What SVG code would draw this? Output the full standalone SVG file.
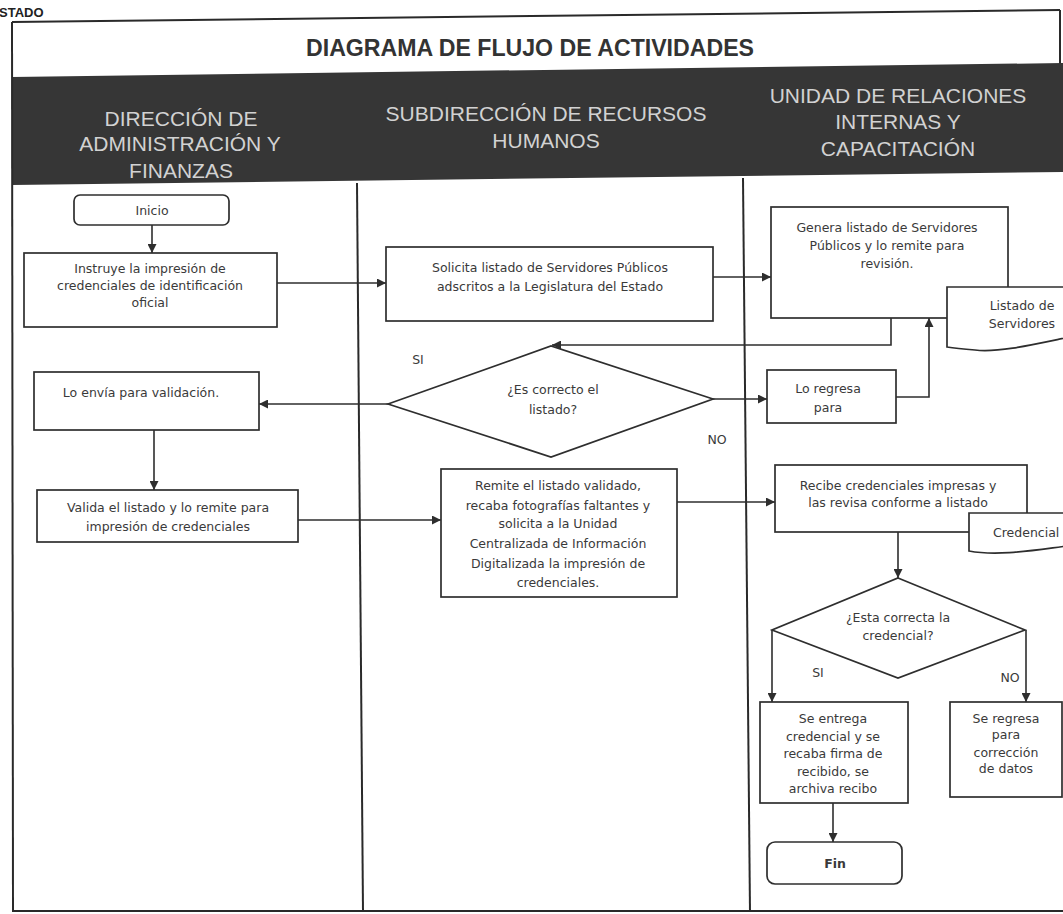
<svg xmlns="http://www.w3.org/2000/svg" width="1063" height="914" viewBox="0 0 1063 914">
<style>
.bx{fill:#fff;stroke:#2e2e2e;stroke-width:1.7}
.t{font-family:"DejaVu Sans","Liberation Sans",sans-serif;font-size:12.5px;fill:#3a3a3a;text-anchor:middle}
.h{font-family:"Liberation Sans",Arial,sans-serif;font-size:21px;fill:#d2d2d2;text-anchor:middle}
.fr{fill:none;stroke:#2a2a2a;stroke-width:2}
.c{fill:none;stroke:#2e2e2e;stroke-width:1.6}
.ca{fill:none;stroke:#2e2e2e;stroke-width:1.6;marker-end:url(#ah)}
</style>
<defs>
<marker id="ah" viewBox="0 0 10 10" refX="10" refY="5" markerWidth="10" markerHeight="9" markerUnits="userSpaceOnUse" orient="auto">
<path d="M0,0 L10,5 L0,10 z" fill="#2e2e2e"/>
</marker>
</defs>
<rect width="1063" height="914" fill="#ffffff"/>
<g id="frame">
<text x="-1" y="17" style="font-family:'Liberation Sans',Arial,sans-serif;font-size:13px;font-weight:bold;fill:#222">STADO</text>
<line class="fr" x1="12" y1="22" x2="1060" y2="10"/>
<line class="fr" x1="1060" y1="10" x2="1060" y2="65"/>
<polygon points="12,77 1063,63 1063,172 12,185" fill="#363636"/>
<line class="fr" x1="12" y1="22" x2="13" y2="912"/>
<line class="fr" x1="357" y1="183" x2="363" y2="912"/>
<line class="fr" x1="743" y1="178" x2="750" y2="912"/>
<line class="fr" x1="12" y1="911" x2="1063" y2="911"/>
<text x="530" y="56" textLength="448" lengthAdjust="spacingAndGlyphs" style="font-family:'Liberation Sans',Arial,sans-serif;font-size:23px;font-weight:bold;fill:#333;text-anchor:middle">DIAGRAMA DE FLUJO DE ACTIVIDADES</text>
<text class="h" x="181" y="126">DIRECCIÓN DE</text>
<text class="h" x="180" y="151">ADMINISTRACIÓN Y</text>
<text class="h" x="181" y="178">FINANZAS</text>
<text class="h" x="546" y="121">SUBDIRECCIÓN DE RECURSOS</text>
<text class="h" x="546" y="148">HUMANOS</text>
<text class="h" x="898" y="103">UNIDAD DE RELACIONES</text>
<text class="h" x="898" y="129">INTERNAS Y</text>
<text class="h" x="898" y="156">CAPACITACIÓN</text>
</g>
<g id="connectors">
<path class="ca" d="M152,225 V253"/>
<path class="ca" d="M277,283 H386"/>
<path class="ca" d="M713,277 H771"/>
<path class="ca" d="M891,318 V345 H552"/>
<path class="ca" d="M388,404 H259"/>
<path class="ca" d="M713,399 H767"/>
<path class="ca" d="M896,397 H929 V318"/>
<path class="ca" d="M154,430 V490"/>
<path class="ca" d="M298,520 H441"/>
<path class="ca" d="M677,502 H775"/>
<path class="ca" d="M898,532 V578"/>
<path class="ca" d="M772,630 V702"/>
<path class="ca" d="M1026,630 V702"/>
<path class="ca" d="M833,803 V842"/>
<text class="t" x="418" y="364">SI</text>
<text class="t" x="717" y="444">NO</text>
<text class="t" x="818" y="677">SI</text>
<text class="t" x="1010" y="682">NO</text>
</g>
<g id="inicio"><rect class="bx" x="74" y="195" width="155" height="30" rx="6"/><text class="t" x="152" y="215">Inicio</text></g>
<g id="instruye"><rect class="bx" x="24" y="253" width="253" height="74"/>
<text class="t" x="150" y="273">Instruye la impresión de</text>
<text class="t" x="150" y="290">credenciales de identificación</text>
<text class="t" x="150" y="307">oficial</text></g>
<g id="envia"><rect class="bx" x="34" y="372" width="225" height="58"/>
<text class="t" x="141" y="397">Lo envía para validación.</text></g>
<g id="valida"><rect class="bx" x="37" y="490" width="261" height="52"/>
<text class="t" x="168" y="512">Valida el listado y lo remite para</text>
<text class="t" x="168" y="531">impresión de credenciales</text></g>
<g id="solicita"><rect class="bx" x="386" y="247" width="327" height="74"/>
<text class="t" x="550" y="272">Solicita listado de Servidores Públicos</text>
<text class="t" x="550" y="291">adscritos a la Legislatura del Estado</text></g>
<g id="decision1"><polygon class="bx" points="388,404 551,346 713,399 551,457"/>
<text class="t" x="553" y="394">¿Es correcto el</text>
<text class="t" x="553" y="414">listado?</text></g>
<g id="remite"><rect class="bx" x="441" y="469" width="236" height="128"/>
<text class="t" x="558" y="490">Remite el listado validado,</text>
<text class="t" x="558" y="510">recaba fotografías faltantes y</text>
<text class="t" x="558" y="528">solicita a la Unidad</text>
<text class="t" x="558" y="548">Centralizada de Información</text>
<text class="t" x="558" y="568">Digitalizada la impresión de</text>
<text class="t" x="558" y="587">credenciales.</text></g>
<g id="genera"><rect class="bx" x="771" y="207" width="237" height="111"/>
<text class="t" x="887" y="232">Genera listado de Servidores</text>
<text class="t" x="887" y="250">Públicos y lo remite para</text>
<text class="t" x="887" y="268">revisión.</text></g>
<g id="listado"><path class="bx" d="M947,287 H1075 V336 C1040,343 1000,353 975,350 C962,349 953,348 947,347 Z"/>
<text class="t" x="1022" y="310">Listado de</text>
<text class="t" x="1022" y="328">Servidores</text></g>
<g id="regresa1"><rect class="bx" x="767" y="370" width="129" height="53"/>
<text class="t" x="828" y="393">Lo regresa</text>
<text class="t" x="828" y="412">para</text></g>
<g id="recibe"><rect class="bx" x="775" y="465" width="252" height="67"/>
<text class="t" x="898" y="490">Recibe credenciales impresas y</text>
<text class="t" x="898" y="507">las revisa conforme a listado</text></g>
<g id="credencial"><path class="bx" d="M969,513 H1075 V545 C1040,549 1000,557 969,551 Z"/>
<text class="t" x="993" y="537" style="text-anchor:start">Credencial</text></g>
<g id="decision2"><polygon class="bx" points="898,578 1025,630 898,678 772,630"/>
<text class="t" x="898" y="622">¿Esta correcta la</text>
<text class="t" x="898" y="640">credencial?</text></g>
<g id="entrega"><rect class="bx" x="760" y="702" width="148" height="101"/>
<text class="t" x="833" y="723">Se entrega</text>
<text class="t" x="833" y="741">credencial y se</text>
<text class="t" x="833" y="758">recaba firma de</text>
<text class="t" x="833" y="776">recibido, se</text>
<text class="t" x="833" y="793">archiva recibo</text></g>
<g id="regresa2"><rect class="bx" x="950" y="702" width="112" height="95"/>
<text class="t" x="1006" y="723">Se regresa</text>
<text class="t" x="1006" y="739">para</text>
<text class="t" x="1006" y="757">corrección</text>
<text class="t" x="1006" y="773">de datos</text></g>
<g id="fin"><rect class="bx" x="767" y="842" width="135" height="42" rx="8"/>
<text class="t" x="835" y="868" style="font-weight:bold">Fin</text></g>
</svg>
